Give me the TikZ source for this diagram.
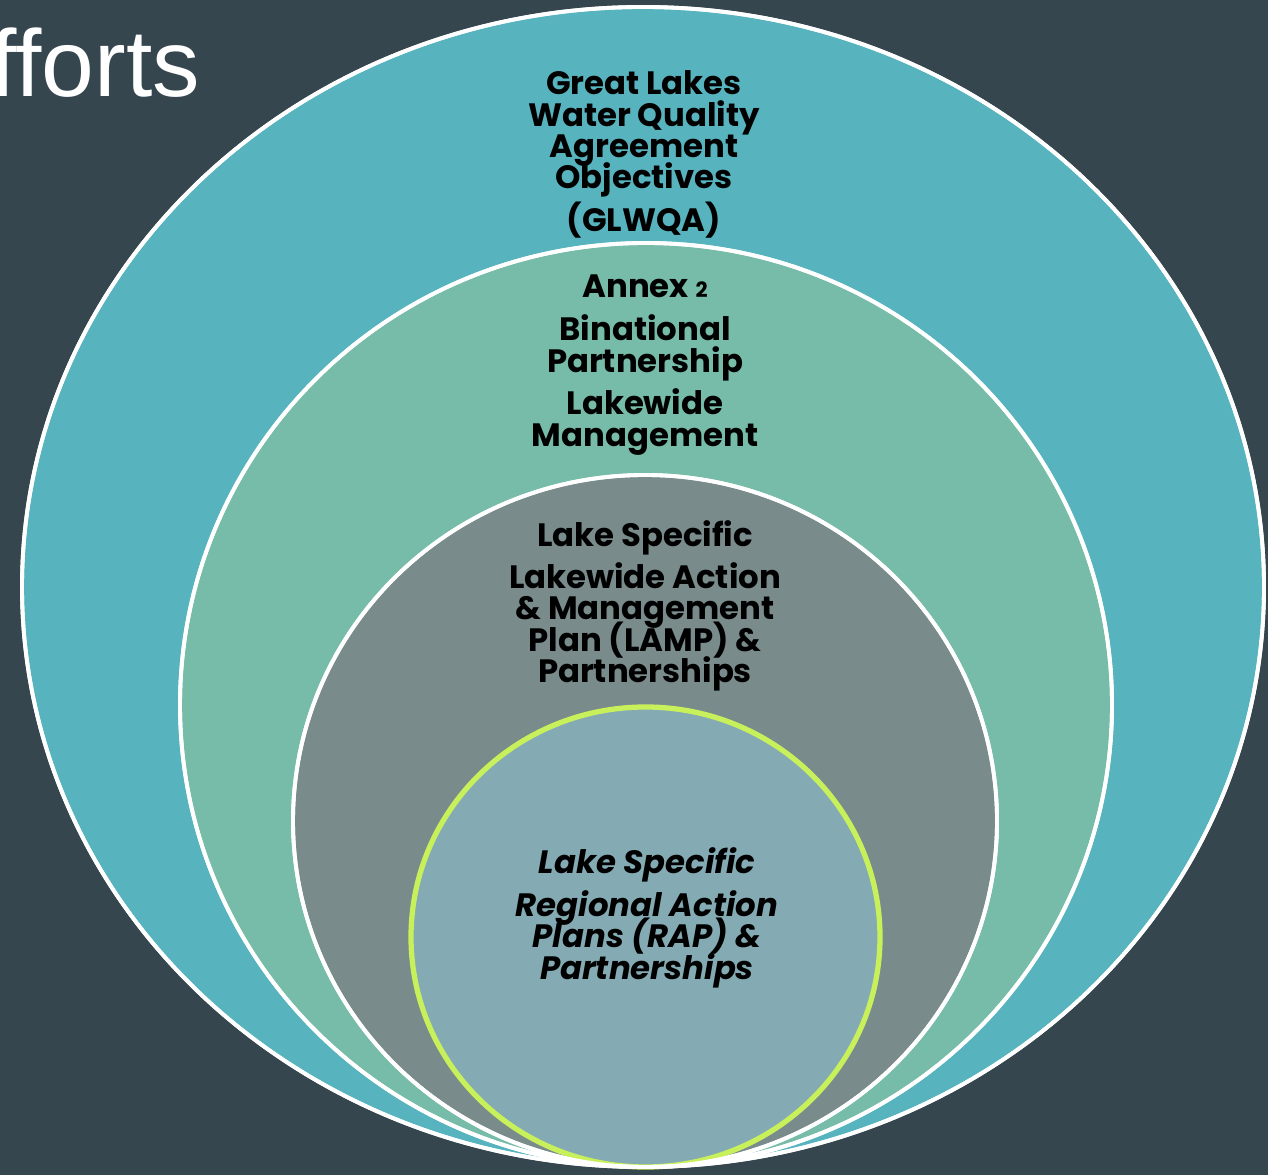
\documentclass[tikz,border=0pt]{standalone}
\usepackage{fontspec}
\setmainfont{Poppins}
\newfontfamily\titlefont{Liberation Sans}
\usetikzlibrary{positioning}

\definecolor{slate}{RGB}{54,70,79}
\definecolor{lakeblue}{RGB}{87,180,191}
\definecolor{lakegreen}{RGB}{118,188,168}
\definecolor{lakegrey}{RGB}{122,139,140}
\definecolor{lakepale}{RGB}{132,171,180}
\definecolor{lime}{RGB}{200,240,90}

\newcommand\tightlines{\lineskiplimit=-20pt\relax}

\begin{document}
\begin{tikzpicture}[
    ring/.style={draw=white, line width=1.1pt},
    label/.style={align=center, text=black, inner sep=0pt,
      font=\bfseries\fontsize{9.2}{8.9}\selectfont\tightlines},
    italiclabel/.style={label,
      font=\bfseries\itshape\fontsize{9.2}{8.9}\selectfont\tightlines},
  ]

  % background
  \fill[slate] (0,0) rectangle (12.68,11.75);
  \useasboundingbox (0,0) rectangle (12.68,11.75);

  % title, cut at the left edge
  \node[anchor=base west, inner sep=0pt, text=white, font=\titlefont\fontsize{27}{27}\selectfont] (title) at (-0.10,10.78) {fforts};

  % nested rings
  \fill[ring, fill=lakeblue] (6.43,5.88) ellipse (6.21 and 5.80);
  \fill[ring, fill=lakegreen] (6.46,4.70) ellipse (4.66 and 4.62);
  \fill[ring, fill=lakegrey] (6.45,3.54) ellipse (3.52 and 3.46);
  \filldraw[draw=lime, line width=1.5pt, fill=lakepale] (6.455,2.38) ellipse (2.345 and 2.30);
  \draw[ring] (6.43,5.88) ellipse (6.21 and 5.80);
  \draw[ring] (6.46,4.70) ellipse (4.66 and 4.62);
  \draw[ring] (6.45,3.54) ellipse (3.52 and 3.46);

  % GLWQA
  \node[label] (glwqa) at (6.44,10.41) {Great Lakes\\Water Quality\\Agreement\\Objectives};
  \node[label, below=0.03 of glwqa] (glwqashort) {(GLWQA)};

  % annex
  \node[label] (annex) at (6.45,8.89) {Annex {\fontsize{6}{6}\selectfont 2}};
  \node[label, below=0.16 of annex] (binat) {Binational\\Partnership};
  \node[label, below=0.07 of binat] (lakewide) {Lakewide\\Management};

  % LAMP
  \node[label] (lamp) at (6.45,6.37) {Lake Specific};
  \node[label, below=0.06 of lamp] (lampplan) {Lakewide Action\\\& Management\\Plan (LAMP) \&\\Partnerships};

  % RAP
  \node[italiclabel] (rap) at (6.47,3.10) {Lake Specific};
  \node[italiclabel, below=0.07 of rap] (rapplan) {Regional Action\\Plans (RAP) \&\\Partnerships};

\end{tikzpicture}
\end{document}
